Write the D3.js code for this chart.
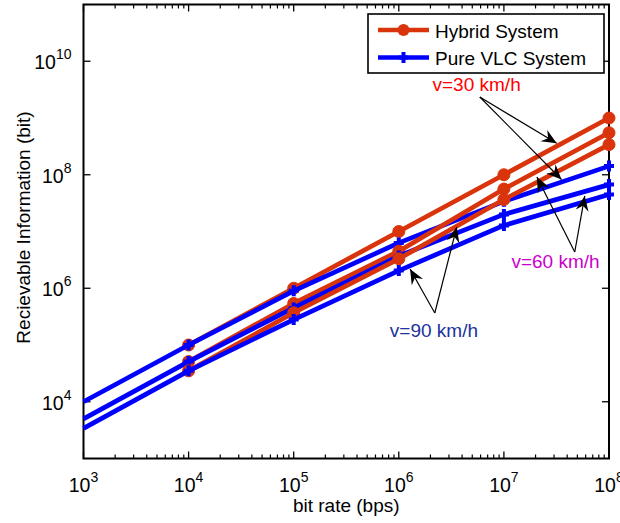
<!DOCTYPE html>
<html>
<head>
<meta charset="utf-8">
<script src="https://cdn.jsdelivr.net/npm/d3@7"></script>
<style>
  html, body { margin: 0; padding: 0; background: #fff; }
  svg { display: block; font-family: "Liberation Sans", Arial, Helvetica, sans-serif; }
</style>
</head>
<body>
<div id="chart"></div>
<script>
// Bit rates (bps) at which each system was evaluated
const rateVLC = [1e3, 1e4, 1e5, 1e6, 1e7, 1e8];
const rateHybrid = [1e4, 1e5, 1e6, 1e7, 1e8];

// Receivable information (bit) for each vehicle speed
const hybrid30 = [1e5, 1e6, 1e7, 1e8, 1e9];
const hybrid60 = [5.1e4, 5.4e5, 4.5e6, 5.6e7, 5.5e8];
const hybrid90 = [3.5e4, 3.7e5, 3.3e6, 3.66e7, 3.4e8];
const vlc30 = [1e4, 1e5, 9e5, 6.3e6, 3.4e7, 1.42e8];
const vlc60 = [5e3, 5.1e4, 4.5e5, 3.7e6, 2.0e7, 6.7e7];
const vlc90 = [3.4e3, 3.5e4, 2.8e5, 2.05e6, 1.28e7, 4.5e7];

const xTicks = [1e3, 1e4, 1e5, 1e6, 1e7, 1e8];
const yTicks = [1e4, 1e6, 1e8, 1e10];
const legendLabels = ["Hybrid System", "Pure VLC System"];

// Speed annotations: label anchor and arrow tips, in data units
const speedLabels = ["v=30 km/h", "v=60 km/h", "v=90 km/h"];
const labelAt = [[5.5e6, 3.0e9], [3.1e7, 2.28e6], [2.16e6, 1.38e5]];
const arrowFrom = [[5.9e6, 2.34e9], [4.72e7, 4.35e6], [2.2e6, 3.66e5]];
const arrowTo = [
  [[3.18e7, 3.58e8], [3.53e7, 8.25e7]],
  [[2.06e7, 9.1e7], [5.88e7, 4.23e7]],
  [[1.28e6, 2.18e6], [3.56e6, 1.2e7]]
];

const W = 620, H = 523;
const RED = "#d9340b", BLUE = "#0000ff";
const labelColors = ["#ff0000", "#cc00cc", "#20339c"];
const margin = { left: 83.5, right: 11, top: 4.5, bottom: 64.5 };

const x = d3.scaleLog().domain([1e3, 1e8]).range([margin.left, W - margin.right]);
const y = d3.scaleLog().domain([1e3, 1e11]).range([H - margin.bottom, margin.top]);

const svg = d3.select("#chart").append("svg").attr("width", W).attr("height", H);

// ---- Axes frame and ticks ----
const minorX = x.ticks().filter(v => !xTicks.some(t => Math.abs(v / t - 1) < 1e-9));
const axisG = svg.append("g");

function drawXTicks(yPos, dir) {
  axisG.selectAll(null).data(xTicks).enter().append("line")
    .attr("x1", d => x(d)).attr("x2", d => x(d))
    .attr("y1", yPos).attr("y2", yPos + dir * 7)
    .attr("stroke", "#000").attr("stroke-width", 1.3);
  axisG.selectAll(null).data(minorX).enter().append("line")
    .attr("x1", d => x(d)).attr("x2", d => x(d))
    .attr("y1", yPos).attr("y2", yPos + dir * 4)
    .attr("stroke", "#000").attr("stroke-width", 1.2);
}
function drawYTicks(xPos, dir) {
  axisG.selectAll(null).data(yTicks).enter().append("line")
    .attr("y1", d => y(d)).attr("y2", d => y(d))
    .attr("x1", xPos).attr("x2", xPos + dir * 7)
    .attr("stroke", "#000").attr("stroke-width", 1.3);
}
drawXTicks(y.range()[0], -1);
drawXTicks(y.range()[1], 1);
drawYTicks(x.range()[0], 1);
drawYTicks(x.range()[1], -1);

axisG.append("rect")
  .attr("x", x.range()[0]).attr("y", y.range()[1])
  .attr("width", x.range()[1] - x.range()[0])
  .attr("height", y.range()[0] - y.range()[1])
  .attr("fill", "none").attr("stroke", "#000").attr("stroke-width", 2);

// Tick labels as 10 with a superscript exponent
function powerLabel(sel) {
  sel.append("tspan").text("10");
  sel.append("tspan").attr("dy", -10).attr("font-size", 14)
    .text(d => Math.round(Math.log10(d)));
}
axisG.selectAll(null).data(xTicks).enter().append("text")
  .attr("x", d => x(d)).attr("y", y.range()[0] + 33)
  .attr("text-anchor", "middle").attr("font-size", 19.5).attr("fill", "#000")
  .call(powerLabel);
axisG.selectAll(null).data(yTicks).enter().append("text")
  .attr("x", x.range()[0] - 12).attr("y", d => y(d) + 8)
  .attr("text-anchor", "end").attr("font-size", 19.5).attr("fill", "#000")
  .call(powerLabel);

// Axis titles
svg.append("text")
  .attr("x", (x.range()[0] + x.range()[1]) / 2).attr("y", 512)
  .attr("text-anchor", "middle").attr("font-size", 19).text("bit rate (bps)");
svg.append("text")
  .attr("transform", `translate(30,${(y.range()[0] + y.range()[1]) / 2 - 4}) rotate(-90)`)
  .attr("text-anchor", "middle").attr("font-size", 19).text("Recievable Information (bit)");

// ---- Series ----
const line = d3.line().x(d => x(d[0])).y(d => y(d[1]));
const plus = "M-5,0H5M0,-5.5V5.5";

const series = [
  { rate: rateHybrid, vals: hybrid30, kind: "hybrid" },
  { rate: rateVLC, vals: vlc30, kind: "vlc" },
  { rate: rateHybrid, vals: hybrid60, kind: "hybrid" },
  { rate: rateVLC, vals: vlc60, kind: "vlc" },
  { rate: rateHybrid, vals: hybrid90, kind: "hybrid" },
  { rate: rateVLC, vals: vlc90, kind: "vlc" }
];

const plotG = svg.append("g");
series.forEach(s => {
  const pts = s.rate.map((r, i) => [r, s.vals[i]]);
  const col = s.kind === "hybrid" ? RED : BLUE;
  const g = plotG.append("g");
  g.append("path").attr("d", line(pts))
    .attr("fill", "none").attr("stroke", col).attr("stroke-width", 4.7)
    .attr("stroke-linejoin", "round");
  if (s.kind === "hybrid") {
    g.selectAll(null).data(pts).enter().append("circle")
      .attr("cx", d => x(d[0])).attr("cy", d => y(d[1])).attr("r", 6)
      .attr("fill", col).attr("stroke", col).attr("stroke-width", 1);
  } else {
    g.selectAll(null).data(pts.slice(1)).enter().append("path")
      .attr("transform", d => `translate(${x(d[0])},${y(d[1])})`)
      .attr("d", plus).attr("stroke", col).attr("stroke-width", 4).attr("fill", "none");
  }
});

// ---- Speed annotations with arrows ----
function arrowHead(g, x0, y0, x1, y1) {
  const a = Math.atan2(y1 - y0, x1 - x0);
  const L = 15, Wd = 6.5, back = 10;
  const pt = (l, w) => [x1 - l * Math.cos(a) - w * Math.sin(a), y1 - l * Math.sin(a) + w * Math.cos(a)];
  const p = [[x1, y1], pt(L, Wd), pt(back, 0), pt(L, -Wd)];
  g.append("path").attr("d", "M" + p.map(q => q.join(",")).join("L") + "Z").attr("fill", "#000");
}
const annG = svg.append("g");
speedLabels.forEach((lab, i) => {
  const [fx, fy] = [x(arrowFrom[i][0]), y(arrowFrom[i][1])];
  arrowTo[i].forEach(t => {
    const [tx, ty] = [x(t[0]), y(t[1])];
    annG.append("line").attr("x1", fx).attr("y1", fy).attr("x2", tx).attr("y2", ty)
      .attr("stroke", "#000").attr("stroke-width", 1.2);
    arrowHead(annG, fx, fy, tx, ty);
  });
  annG.append("text")
    .attr("x", x(labelAt[i][0])).attr("y", y(labelAt[i][1]))
    .attr("text-anchor", "middle").attr("font-size", 19).attr("fill", labelColors[i])
    .text(lab);
});

// ---- Legend ----
const leg = svg.append("g");
leg.append("rect").attr("x", 368).attr("y", 14).attr("width", 236).attr("height", 59)
  .attr("fill", "#fff").attr("stroke", "#000").attr("stroke-width", 1.6);
legendLabels.forEach((lab, i) => {
  const ly = 30 + i * 27.5;
  const col = i === 0 ? RED : BLUE;
  leg.append("line").attr("x1", 378).attr("x2", 429).attr("y1", ly).attr("y2", ly)
    .attr("stroke", col).attr("stroke-width", 4.7);
  if (i === 0) {
    leg.append("circle").attr("cx", 403.5).attr("cy", ly).attr("r", 6).attr("fill", col);
  } else {
    leg.append("path").attr("transform", `translate(403.5,${ly})`).attr("d", plus)
      .attr("stroke", col).attr("stroke-width", 4);
  }
  leg.append("text").attr("x", 435).attr("y", ly + 7.5).attr("font-size", 19)
    .attr("fill", "#000").text(lab);
});
</script>
</body>
</html>
